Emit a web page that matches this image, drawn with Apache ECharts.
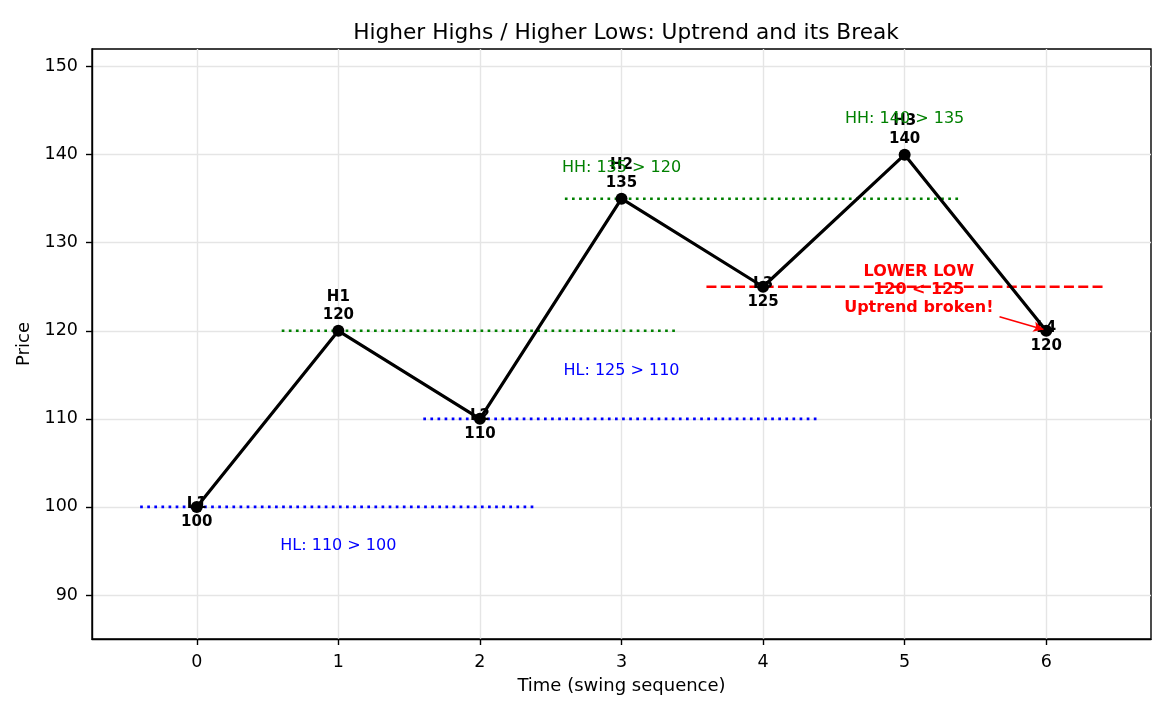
<!DOCTYPE html>
<html>
<head>
<meta charset="utf-8">
<script src="https://cdn.jsdelivr.net/npm/echarts@6/dist/echarts.min.js"></script>
<style>
  html, body { margin: 0; padding: 0; background: #fff; }
  #mychart { width: 1170px; height: 715px; }
</style>
</head>
<body>
<div id="mychart"></div>
<script>
  // swing points
  const swingX = [0, 1, 2, 3, 4, 5, 6]
  const swingPrice = [100, 120, 110, 135, 125, 140, 120]
  const swingNames = ['L1', 'H1', 'L2', 'H2', 'L3', 'H3', 'L4']

  // horizontal reference levels
  const levelPrices = [100, 110, 120, 135, 125]
  const levelStarts = [-0.4, 1.6, 0.6, 2.6, 3.6]
  const levelEnds = [2.4, 4.4, 3.4, 5.4, 6.4]
  const levelKinds = ['HL', 'HL', 'HH', 'HH', 'LL']

  // small notes
  const noteTexts = ['HL: 110 > 100', 'HL: 125 > 110', 'HH: 135 > 120', 'HH: 140 > 135']
  const noteKinds = ['HL', 'HL', 'HH', 'HH']
  const noteX = [1, 3, 3, 5]
  const noteY = [95.6, 115.5, 138.5, 144.1]

  // break annotation
  const breakText = 'LOWER LOW\n120 < 125\nUptrend broken!'
  const breakPos = [5.1, 124.6]
  const arrowFrom = [5.67, 121.6]
  const arrowTo = [5.98, 120.15]

  const xTicks = [0, 1, 2, 3, 4, 5, 6]
  const yTicks = [90, 100, 110, 120, 130, 140, 150]

  const kindColor = { HL: '#0000ff', HH: '#008000', LL: '#ff0000' }
  const FONT = 'DejaVu Sans'

  const swingData = swingX.map((x, i) => {
    const isHigh = swingNames[i].startsWith('H')
    return {
      value: [x, swingPrice[i]],
      name: swingNames[i],
      label: isHigh
        ? { position: 'top', distance: 1 }
        : { position: 'inside', offset: [0, 6] },
    }
  })

  const levelSeries = levelPrices.map((p, i) => ({
    type: 'line',
    data: [[levelStarts[i], p], [levelEnds[i], p]],
    symbol: 'none',
    silent: true,
    z: 1,
    lineStyle: levelKinds[i] === 'LL'
      ? { color: kindColor.LL, width: 2.6, type: [10, 4.3] }
      : { color: kindColor[levelKinds[i]], width: 2.6, type: [2.7, 4.4] },
  }))

  const noteSeries = {
    type: 'scatter',
    symbolSize: 1,
    itemStyle: { color: 'transparent', opacity: 1 },
    silent: true,
    z: 5,
    data: noteTexts.map((t, i) => ({
      value: [noteX[i], noteY[i]],
      name: t,
      label: { color: kindColor[noteKinds[i]] },
    })),
    label: {
      show: true,
      position: 'inside',
      formatter: (p) => p.name,
      fontFamily: FONT,
      fontSize: 16,
      opacity: 1,
    },
  }

  const breakSeries = {
    type: 'scatter',
    symbolSize: 1,
    itemStyle: { color: 'transparent', opacity: 1 },
    silent: true,
    z: 6,
    data: [{ value: breakPos, name: breakText }],
    label: {
      show: true,
      position: 'inside',
      formatter: (p) => p.name,
      fontFamily: FONT,
      fontSize: 16,
      fontWeight: 'bold',
      lineHeight: 18,
      color: '#ff0000',
      opacity: 1,
    },
    markLine: {
      silent: true,
      symbol: ['none', 'arrow'],
      symbolSize: [8, 10],
      label: { show: false },
      lineStyle: { color: '#ff0000', width: 1.6, type: 'solid', opacity: 1 },
      data: [[{ coord: arrowFrom }, { coord: arrowTo }]],
    },
  }

  const option = {
    animation: false,
    title: {
      text: 'Higher Highs / Higher Lows: Uptrend and its Break',
      left: 621,
      top: 17,
      textAlign: 'center',
      textStyle: { fontFamily: FONT, fontSize: 21.7, fontWeight: 'normal', color: '#000' },
    },
    grid: {
      left: 92,
      right: 19,
      top: 49,
      bottom: 76,
      show: true,
      borderColor: '#000',
      borderWidth: 1.4,
    },
    xAxis: {
      type: 'value',
      min: -0.74,
      max: 6.74,
      interval: 1,
      name: 'Time (swing sequence)',
      nameLocation: 'middle',
      nameGap: 38,
      nameTextStyle: { fontFamily: FONT, fontSize: 18, color: '#000' },
      axisLine: { show: true, onZero: false, lineStyle: { color: '#000', width: 1.4 } },
      axisTick: { show: true, inside: false, length: 6, lineStyle: { color: '#000', width: 1.4 }, customValues: xTicks },
      axisLabel: { fontFamily: FONT, fontSize: 17.5, color: '#000', margin: 14, customValues: xTicks, formatter: (v) => String(v) },
      splitLine: { show: true, lineStyle: { color: '#e5e5e5', width: 1.4 } },
    },
    yAxis: {
      type: 'value',
      min: 85,
      max: 152,
      interval: 10,
      name: 'Price',
      nameLocation: 'middle',
      nameGap: 49,
      nameTextStyle: { fontFamily: FONT, fontSize: 18, color: '#000' },
      axisLine: { show: true, onZero: false, lineStyle: { color: '#000', width: 1.4 } },
      axisTick: { show: true, inside: false, length: 6, lineStyle: { color: '#000', width: 1.4 }, customValues: yTicks },
      axisLabel: { fontFamily: FONT, fontSize: 17.5, color: '#000', margin: 14, customValues: yTicks },
      splitLine: { show: true, lineStyle: { color: '#e5e5e5', width: 1.4 } },
    },
    series: [
      ...levelSeries,
      {
        type: 'line',
        data: swingData,
        z: 3,
        symbol: 'circle',
        symbolSize: 12,
        itemStyle: { color: '#000' },
        lineStyle: { color: '#000', width: 3.2 },
        label: {
          show: true,
          formatter: (p) => p.name + '\n' + p.value[1],
          fontFamily: FONT,
          fontSize: 15,
          fontWeight: 'bold',
          lineHeight: 18,
          color: '#000',
        },
      },
      noteSeries,
      breakSeries,
    ],
  }

  const myChart = echarts.init(document.getElementById('mychart'))
  myChart.setOption(option)
</script>
</body>
</html>
